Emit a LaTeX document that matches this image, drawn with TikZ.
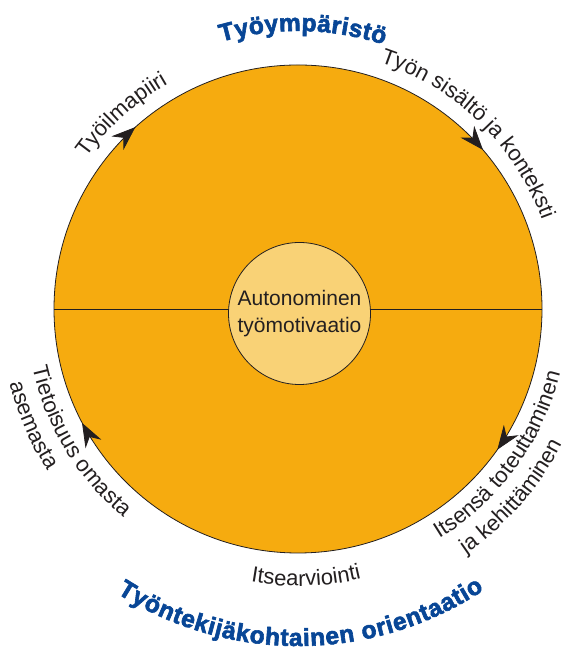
\documentclass[tikz,border=0pt]{standalone}
\usepackage{fontspec}
\setmainfont{Liberation Sans}
\newfontfamily\heavyfont[BoldFeatures={FakeBold=2.5}]{Liberation Sans}
\usetikzlibrary{arrows.meta,%
                decorations.text}
\definecolor{ringorange}{RGB}{246,171,15}
\definecolor{coreyellow}{RGB}{249,210,118}
\definecolor{titleblue}{RGB}{8,70,150}
\definecolor{inkblack}{RGB}{35,31,32}
\newcommand\arcfont{\fontsize{22}{26}\selectfont\color{inkblack}}
\newcommand\headfont{\heavyfont\bfseries\fontsize{24.5}{28}\selectfont\color{titleblue}}

\begin{document}
\begin{tikzpicture}[x=1pt,y=1pt]
		\tikzstyle{ring}=[circle,draw=inkblack,fill=ringorange,line width=0.8pt,minimum size=488pt,inner sep=0pt,outer sep=0pt]
		\tikzstyle{core}=[circle,draw=inkblack,fill=coreyellow,line width=0.8pt,minimum size=142pt,inner sep=0pt,outer sep=0pt,%
			align=center,font=\fontsize{21}{27}\selectfont,text=inkblack]
		\tikzstyle{flow}=[inkblack,line width=0.8pt,-{Stealth[length=24pt,width=18pt,inset=8pt]}]
		\tikzstyle{arclabel}=[decorate,decoration={text along path,text align=left}]
		\useasboundingbox (0,0) rectangle (569,652);
		\node[ring] (ring) at (298,343) {};
		\draw[inkblack,line width=0.8pt] (ring.west) -- (ring.east);
		\node[core] (core) at (299.5,338.5) {Autonominen\\työmotivaatio};
		% arrows, clockwise
		\draw[flow] (ring.135) arc[start angle=135,end angle=131.8,radius=244pt];
		\draw[flow] (ring.44) arc[start angle=44,end angle=40.7,radius=244pt];
		\draw[flow] (ring.328) arc[start angle=328,end angle=324.8,radius=244pt];
		\draw[flow] (ring.211.6) arc[start angle=211.6,end angle=208.4,radius=244pt];
		\begin{scope}[shift={(ring.center)}]
			\path[arclabel,decoration={text={|\arcfont|Työilmapiiri}}]
				(144.5:260pt) arc[start angle=144.5,end angle=100,radius=260pt];
			\path[arclabel,decoration={text={|\arcfont|Työn sisältö ja konteksti}}]
				(71.6:260pt) arc[start angle=71.6,end angle=5,radius=260pt];
			\path[arclabel,decoration={text={|\arcfont|Itsensä toteuttaminen}}]
				(301.6:270pt) arc[start angle=301.6,end angle=370,radius=270pt];
			\path[arclabel,decoration={text={|\arcfont|ja kehittäminen}}]
				(304.4:297pt) arc[start angle=304.4,end angle=360,radius=297pt];
			\path[arclabel,decoration={text={|\arcfont|Tietoisuus omasta}}]
				(192.5:272pt) arc[start angle=192.5,end angle=250,radius=272pt];
			\path[arclabel,decoration={text={|\arcfont|asemasta}}]
				(194.5:298pt) arc[start angle=194.5,end angle=240,radius=298pt];
			\path[arclabel,decoration={text={|\arcfont|Itsearviointi},text align=center}]
				(250:277pt) arc[start angle=250,end angle=293.4,radius=277pt];
			% headings
			\path[arclabel,decoration={text={|\headfont|Työympäristö},text align={fit to path}}]
				(106:278pt) arc[start angle=106,end angle=72,radius=278pt];
			\path[arclabel,decoration={text={|\headfont|Työntekijäkohtainen orientaatio},text align={fit to path}}]
				(237.5:337pt) arc[start angle=237.5,end angle=303.5,radius=337pt];
		\end{scope}
\end{tikzpicture}
\end{document}
